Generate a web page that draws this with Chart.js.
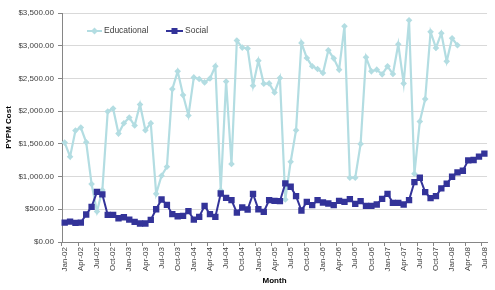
<!DOCTYPE html>
<html>
<head>
<meta charset="utf-8">
<script src="https://cdn.jsdelivr.net/npm/chart.js@4/dist/chart.umd.min.js"></script>
<style>
html,body{margin:0;padding:0;background:#fff;}
#wrap{position:relative;width:495px;height:290px;}
</style>
</head>
<body>
<div id="wrap"><canvas id="c" width="495" height="290"></canvas></div>
<script>
const months = ["Jan-02","Feb-02","Mar-02","Apr-02","May-02","Jun-02","Jul-02","Aug-02","Sep-02","Oct-02","Nov-02","Dec-02",
"Jan-03","Feb-03","Mar-03","Apr-03","May-03","Jun-03","Jul-03","Aug-03","Sep-03","Oct-03","Nov-03","Dec-03",
"Jan-04","Feb-04","Mar-04","Apr-04","May-04","Jun-04","Jul-04","Aug-04","Sep-04","Oct-04","Nov-04","Dec-04",
"Jan-05","Feb-05","Mar-05","Apr-05","May-05","Jun-05","Jul-05","Aug-05","Sep-05","Oct-05","Nov-05","Dec-05",
"Jan-06","Feb-06","Mar-06","Apr-06","May-06","Jun-06","Jul-06","Aug-06","Sep-06","Oct-06","Nov-06","Dec-06",
"Jan-07","Feb-07","Mar-07","Apr-07","May-07","Jun-07","Jul-07","Aug-07","Sep-07","Oct-07","Nov-07","Dec-07",
"Jan-08","Feb-08","Mar-08","Apr-08","May-08","Jun-08","Jul-08"];

const educational = [1519,1304,1703,1749,1524,885,466,793,1994,2040,1657,1816,
1902,1780,2102,1709,1816,736,1012,1151,2337,2608,2245,1933,
2516,2491,2439,2500,2685,790,2454,1192,3079,2971,2956,2388,
2772,2419,2424,2286,2506,650,1227,1709,3043,2813,2685,2644,
2583,2930,2807,2634,3298,982,982,1499,2823,2608,2634,2562,
2685,2567,3022,2424,3390,1043,1841,2184,3212,2966,3191,2761,
3114,3007,null,null,null,null,null];

const social = [297,312,292,297,420,537,767,727,414,414,363,379,
343,307,282,282,338,501,650,568,425,394,399,471,
343,384,552,425,384,742,675,640,450,527,497,736,
501,460,640,629,624,895,844,701,481,614,563,640,
604,588,563,629,614,655,583,624,552,552,573,660,
736,598,598,573,640,916,982,762,670,701,819,890,
997,1064,1089,1248,1253,1304,1350];

const seriesNames = ["Educational","Social"];
const yTicks = [0,500,1000,1500,2000,2500,3000,3500];
const titleText = "Average Program Expenditures per Member by Category";

const EDU_COLOR = '#b3dde2';
const SOC_COLOR = '#333399';
const TXT = '#404040';
const AXIS = '#868686';

Chart.defaults.font.family = "'Liberation Sans', Arial, sans-serif";
Chart.defaults.font.size = 8;
Chart.defaults.color = TXT;

const legendPlugin = {
  id: 'customLegendTitle',
  afterDraw(chart) {
    const ctx = chart.ctx;
    ctx.save();
    // cropped title (only descenders visible at the top edge)
    ctx.font = "bold 17px 'Liberation Sans', Arial, sans-serif";
    ctx.fillStyle = '#000';
    ctx.textAlign = 'center';
    ctx.textBaseline = 'alphabetic';
    ctx.fillText(titleText, 250, -3.8);
    // legend
    const y = 31;
    ctx.lineWidth = 2;
    ctx.strokeStyle = EDU_COLOR;
    ctx.beginPath(); ctx.moveTo(87, y); ctx.lineTo(102, y); ctx.stroke();
    ctx.fillStyle = EDU_COLOR;
    ctx.beginPath();
    ctx.moveTo(94.5, y - 3.5); ctx.lineTo(98, y); ctx.lineTo(94.5, y + 3.5); ctx.lineTo(91, y); ctx.closePath(); ctx.fill();
    ctx.strokeStyle = SOC_COLOR;
    ctx.beginPath(); ctx.moveTo(166, y); ctx.lineTo(183, y); ctx.stroke();
    ctx.fillStyle = SOC_COLOR;
    ctx.fillRect(171.5, y - 3, 6, 6);
    ctx.font = "8.5px 'Liberation Sans', Arial, sans-serif";
    ctx.fillStyle = TXT;
    ctx.textAlign = 'left';
    ctx.textBaseline = 'middle';
    ctx.fillText(seriesNames[0], 104, y);
    ctx.fillText(seriesNames[1], 185, y);
    ctx.restore();
  }
};

new Chart(document.getElementById('c'), {
  type: 'line',
  data: {
    labels: months,
    datasets: [
      {
        label: seriesNames[0],
        data: educational,
        borderColor: EDU_COLOR,
        backgroundColor: EDU_COLOR,
        borderWidth: 2.2,
        pointStyle: 'rectRot',
        pointRadius: 3.3,
        pointBorderWidth: 0,
        tension: 0,
        spanGaps: false,
        order: 1
      },
      {
        label: seriesNames[1],
        data: social,
        borderColor: SOC_COLOR,
        backgroundColor: SOC_COLOR,
        borderWidth: 2,
        pointStyle: 'rect',
        pointRadius: 4.5,
        pointBorderWidth: 0,
        tension: 0,
        order: 0
      }
    ]
  },
  options: {
    responsive: false,
    animation: false,
    devicePixelRatio: 1,
    layout: { padding: { top: 13, right: 4, left: 0, bottom: 0 } },
    plugins: {
      legend: { display: false },
      title: { display: false },
      tooltip: { enabled: false }
    },
    scales: {
      x: {
        type: 'category',
        offset: true,
        grid: {
          offset: true,
          drawOnChartArea: false,
          tickLength: 4,
          tickColor: (c) => (c.index % 3 === 0 ? AXIS : 'rgba(0,0,0,0)'),
          lineWidth: 1
        },
        border: { color: AXIS, width: 1 },
        ticks: {
          autoSkip: false,
          maxRotation: 90,
          minRotation: 90,
          padding: 1,
          color: TXT,
          font: { size: 8 },
          callback: function (v, i) { return i % 3 === 0 ? months[i] : ''; }
        },
        title: {
          display: true,
          text: 'Month',
          color: '#000',
          font: { size: 8, weight: 'bold' },
          padding: { top: 2, bottom: 4 }
        },
        afterFit: (s) => { s.height = 48; }
      },
      y: {
        min: 0,
        max: 3500,
        afterBuildTicks: (s) => { s.ticks = yTicks.map(v => ({ value: v })); },
        grid: {
          color: '#d9d9d9',
          lineWidth: 1,
          tickLength: 4,
          tickColor: AXIS
        },
        border: { color: AXIS, width: 1 },
        ticks: {
          padding: 4,
          color: TXT,
          font: { size: 8 },
          callback: (v) => '$' + Number(v).toLocaleString('en-US', { minimumFractionDigits: 2, maximumFractionDigits: 2 })
        },
        title: {
          display: true,
          text: 'PYPM Cost',
          color: '#000',
          font: { size: 8, weight: 'bold' },
          padding: { top: 4, bottom: 4 }
        },
        afterFit: (s) => { s.width = 62; }
      }
    }
  },
  plugins: [legendPlugin]
});
</script>
</body>
</html>
